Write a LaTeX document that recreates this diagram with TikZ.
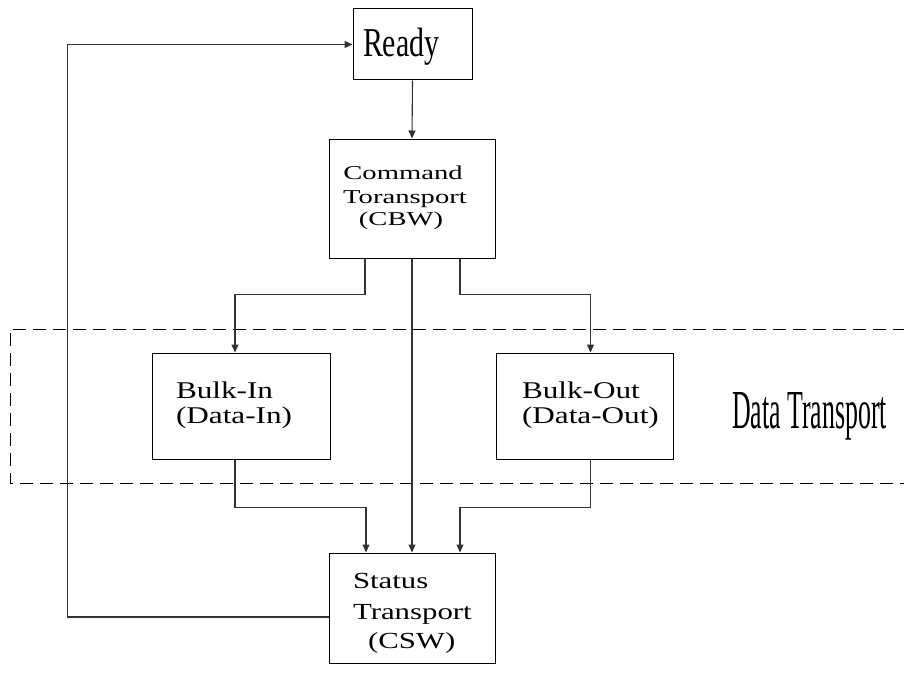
\documentclass[tikz,border=0pt]{standalone}
\usepackage{fontspec}
\usepackage{graphicx}
\setmainfont{Liberation Serif}
\usetikzlibrary{arrows.meta}
\tikzset{
  box/.style={draw=black, line width=1pt, inner sep=0pt},
  conn/.style={draw=black!80, line width=1.1pt},
  arr/.style={conn, -{Triangle[length=8pt,width=7pt]}},
  regionbox/.style={draw=black, line width=1pt, dash pattern=on 13pt off 7pt},
  txt/.style={inner sep=0pt, outer sep=0pt, anchor=base west},
}
\newcommand{\rdyfont}{\fontsize{41}{41}\selectfont}
\newcommand{\cmdfont}{\fontsize{19.6}{20}\selectfont}
\newcommand{\blkfont}{\fontsize{24}{24}\selectfont}
\newcommand{\stsfont}{\fontsize{23}{23}\selectfont}
\newcommand{\dtfont}{\fontsize{55}{55}\selectfont}
\begin{document}
\begin{tikzpicture}[x=1pt,y=-1pt]
\useasboundingbox (0,0) rectangle (904,674);
% region
\draw[regionbox] (906,329) -- (10,329) -- (10,483) -- (906,483);
\node[txt] (dt) at (732,428) {\dtfont\scalebox{0.47}[1]{Data Transport}};
% boxes
\node[box, minimum width=119pt, minimum height=71pt] (ready) at (412.5,44.5) {};
\node[box, minimum width=166pt, minimum height=119pt] (cmd) at (412,198.5) {};
\node[box, minimum width=178pt, minimum height=106pt] (bin) at (241,406) {};
\node[box, minimum width=177pt, minimum height=106pt] (bout) at (584.5,406) {};
\node[box, minimum width=166pt, minimum height=110pt] (status) at (412,608) {};
% texts
\node[txt] (readyT) at (363,57) {\rdyfont\scalebox{0.73}[1]{Ready}};
\node[txt, anchor=base] (cmdA) at (403,179) {\cmdfont\scalebox{1.46}[1]{Command}};
\node[txt, anchor=base] (cmdB) at (405,203) {\cmdfont\scalebox{1.46}[1]{Toransport}};
\node[txt, anchor=base] (cmdC) at (401,225) {\cmdfont\scalebox{1.46}[1]{(CBW)}};
\node[txt] (binA) at (176,398) {\blkfont\scalebox{1.3}[1]{Bulk-In}};
\node[txt] (binB) at (176,423) {\blkfont\scalebox{1.3}[1]{(Data-In)}};
\node[txt] (boutA) at (522,398) {\blkfont\scalebox{1.3}[1]{Bulk-Out}};
\node[txt] (boutB) at (522,423) {\blkfont\scalebox{1.3}[1]{(Data-Out)}};
\node[txt] (stA) at (353,588) {\stsfont\scalebox{1.34}[1]{Status}};
\node[txt] (stB) at (353,619) {\stsfont\scalebox{1.34}[1]{Transport}};
\node[txt] (stC) at (368,648) {\stsfont\scalebox{1.34}[1]{(CSW)}};
% connectors
\draw[arr] (ready.south) -- (cmd.north);
\draw[arr] ([xshift=-47pt]cmd.south) -- ++(0,36) -| ([xshift=-6pt]bin.north);
\draw[arr] ([xshift=48pt]cmd.south) -- ++(0,36) -| ([xshift=6pt]bout.north);
\draw[arr] (cmd.south) -- (status.north);
\draw[arr] ([xshift=-6pt]bin.south) -- ++(0,48) -| ([xshift=-46pt]status.north);
\draw[arr] ([xshift=6pt]bout.south) -- ++(0,48) -| ([xshift=48pt]status.north);
\draw[arr] ([yshift=-9pt]status.west) -- ++(-261,0) |- (ready.west);
\end{tikzpicture}
\end{document}
